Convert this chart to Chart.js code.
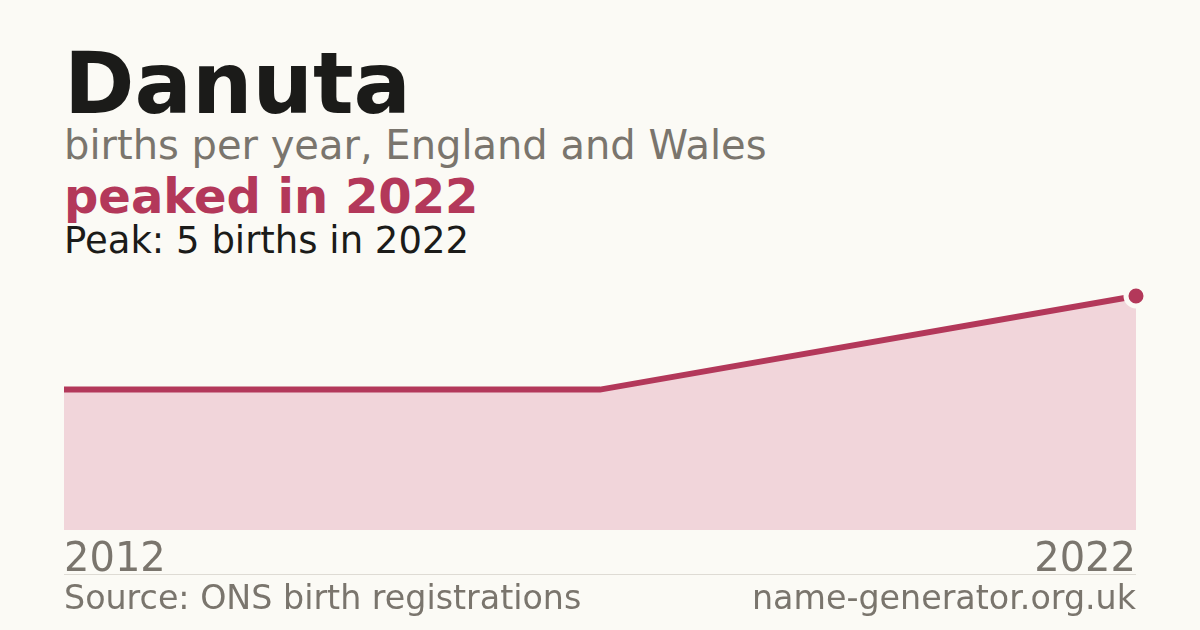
<!DOCTYPE html>
<html>
<head>
<meta charset="utf-8">
<script src="https://cdn.jsdelivr.net/npm/chart.js@4"></script>
<style>
  html, body { margin: 0; padding: 0; }
  body { width: 1200px; height: 630px; background: #fbfaf5; position: relative; overflow: hidden;
         font-family: "DejaVu Sans", sans-serif; }
  .t { position: absolute; left: 64px; line-height: 1; white-space: nowrap; }
  #title { top: 41px; font-size: 85px; font-weight: bold; color: #1b1b19; }
  #sub { top: 125px; font-size: 40px; color: #7a756d; }
  #headline { top: 172px; font-size: 48px; font-weight: bold; color: #b3385a; }
  #peak { top: 222px; font-size: 37px; color: #1b1b19; }
  #yearStart { top: 537px; font-size: 40px; color: #7a756d; }
  #yearEnd { top: 537px; font-size: 40px; color: #7a756d; left: auto; right: 64px; }
  #rule { position: absolute; left: 64px; width: 1072px; top: 574px; height: 1px; background: #dedbd4; }
  #source { top: 581px; font-size: 33.3px; color: #7a756d; }
  #site { top: 581px; font-size: 33.3px; color: #7a756d; left: auto; right: 64px; }
  #wrap { position: absolute; left: 0; top: 280px; width: 1200px; height: 260px; }
</style>
</head>
<body>
<div class="t" id="title"></div>
<div class="t" id="sub"></div>
<div class="t" id="headline"></div>
<div class="t" id="peak"></div>
<div id="wrap"><canvas id="chart"></canvas></div>
<div class="t" id="yearStart"></div>
<div class="t" id="yearEnd"></div>
<div id="rule"></div>
<div class="t" id="source">Source: ONS birth registrations</div>
<div class="t" id="site">name-generator.org.uk</div>
<script>
const name = 'Danuta';
const years = ['2012', '2013', '2014', '2015', '2016', '2017', '2018', '2019', '2020', '2021', '2022'];
// births per year; null = not published
const births = [3, 3, 3, 3, 3, 3, null, null, null, null, 5];

const lineColor = '#b3385a';
const fillColor = '#f1d5da';
const bg = '#fbfaf5';

let peakIdx = 0;
births.forEach((v, i) => { if (v !== null && v >= births[peakIdx]) peakIdx = i; });

document.getElementById('title').textContent = name;
document.getElementById('sub').textContent = 'births per year, England and Wales';
document.getElementById('headline').textContent = 'peaked in ' + years[peakIdx];
document.getElementById('peak').textContent = 'Peak: ' + births[peakIdx] + ' births in ' + years[peakIdx];
document.getElementById('yearStart').textContent = years[0];
document.getElementById('yearEnd').textContent = years[years.length - 1];

const ctx = document.getElementById('chart').getContext('2d');
new Chart(ctx, {
    type: 'line',
    data: {
        labels: years,
        datasets: [{
            data: births,
            borderColor: lineColor,
            borderWidth: 6,
            backgroundColor: fillColor,
            fill: 'origin',
            tension: 0,
            spanGaps: true,
            clip: false,
            pointRadius: c => c.dataIndex === births.length - 1 ? 10 : 0,
            pointHoverRadius: c => c.dataIndex === births.length - 1 ? 10 : 0,
            pointBackgroundColor: lineColor,
            pointBorderColor: bg,
            pointBorderWidth: 5
        }]
    },
    options: {
        responsive: true,
        maintainAspectRatio: false,
        animation: false,
        layout: { autoPadding: false, padding: { left: 64, right: 64, top: 16, bottom: 10 } },
        plugins: { legend: { display: false }, tooltip: { enabled: false } },
        scales: {
            x: { display: false, offset: false },
            y: { display: false, min: 0, max: 5 }
        }
    }
});
</script>
</body>
</html>
